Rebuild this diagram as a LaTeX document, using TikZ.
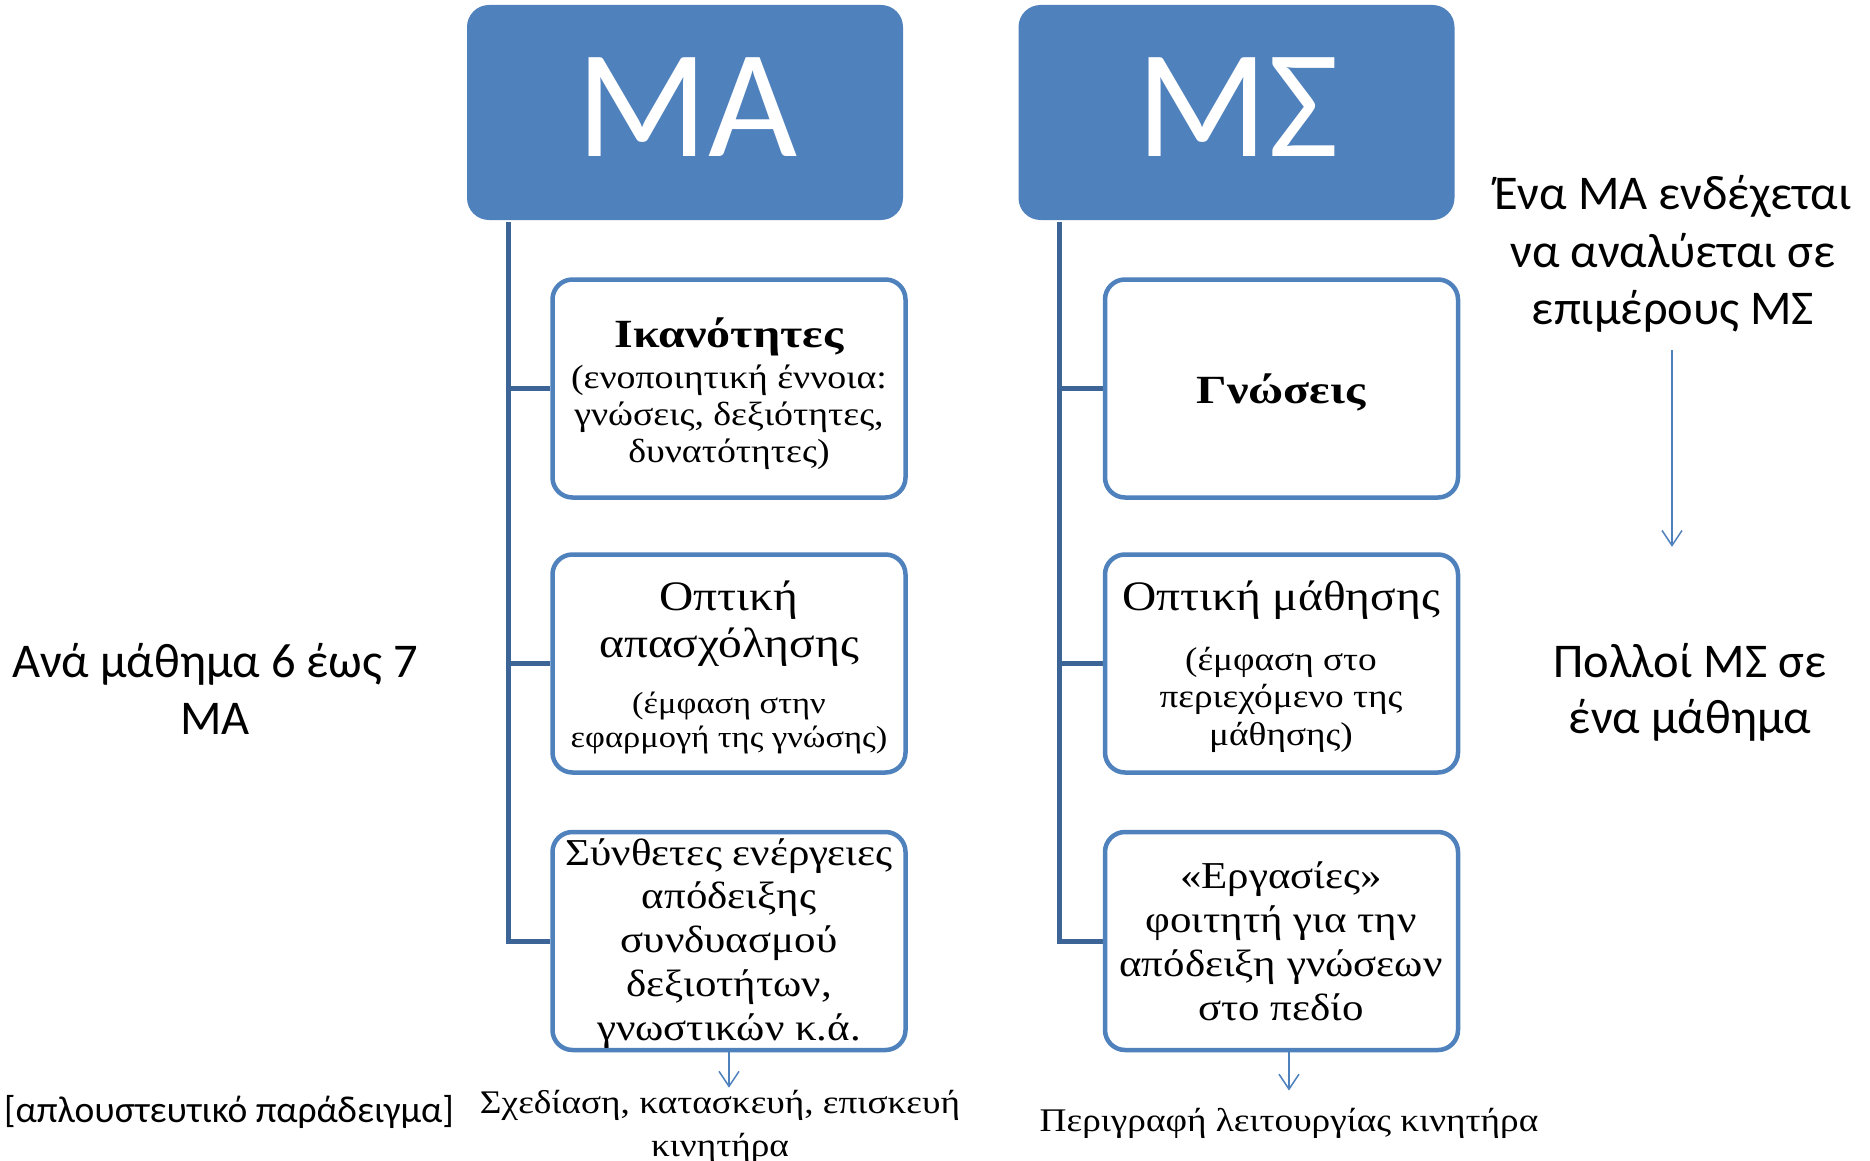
\documentclass[tikz,border=0pt]{standalone}
\usepackage{fontspec}
\setmainfont{Liberation Serif}[FakeStretch=1.13, BoldFeatures={FakeStretch=1.2}]
\newfontfamily\calib{Carlito}
\usetikzlibrary{arrows.meta}
\definecolor{accent}{HTML}{4F81BD}
\definecolor{trunkc}{HTML}{3C6496}
\newcommand\stackc[1]{\begin{tabular}[t]{@{}c@{}}#1\end{tabular}}
\newcommand\fs[2]{\fontsize{#1pt}{#2pt}\selectfont}
\pgfdeclarelayer{bg}
\pgfsetlayers{bg,main}
\begin{document}
\begin{tikzpicture}[x=1pt,y=-1pt,
  head/.style={fill=accent, rounded corners=22pt, minimum width=436pt, minimum height=215pt, inner sep=0pt},
  item/.style={draw=accent, line width=4.5pt, rounded corners=20pt, fill=white, minimum width=353pt, minimum height=218pt, inner sep=0pt},
  txt/.style={inner sep=0pt, anchor=base},
  trunk/.style={draw=trunkc, line width=5pt},
  thin arrow/.style={draw=accent, line width=1.5pt, -{Straight Barb[length=15pt,width=20pt]}},
]
\useasboundingbox (0,0) rectangle (1870,1161);
\begin{pgfonlayer}{bg}
  \fill[white] (0,0) rectangle (1870,1161);
\end{pgfonlayer}

% header blocks
\node[head] (ma) at (685,112.5) {};
\node[head] (ms) at (1236.5,112.5) {};
\node[txt, font=\calib\fs{154}{160}, text=white] (maL) at (687,157) {ΜΑ};
\node[txt, font=\calib\fs{154}{160}, text=white] (msL) at (1238,157) {ΜΣ};

% child boxes
\node[item] (ma1) at (729,388.5) {};
\node[item] (ma2) at (729,663.5) {};
\node[item] (ma3) at (729,941) {};
\node[item] (ms1) at (1281.5,388.5) {};
\node[item] (ms2) at (1281.5,663.5) {};
\node[item] (ms3) at (1281.5,941) {};

% hierarchy lines
\coordinate (maTop) at (508,222);
\coordinate (msTop) at (1059,222);
\begin{pgfonlayer}{bg}
  \draw[trunk] (maTop) |- (ma3.west);
  \draw[trunk] (maTop |- ma1.west) -- (ma1.west);
  \draw[trunk] (maTop |- ma2.west) -- (ma2.west);
  \draw[trunk] (msTop) |- (ms3.west);
  \draw[trunk] (msTop |- ms1.west) -- (ms1.west);
  \draw[trunk] (msTop |- ms2.west) -- (ms2.west);
\end{pgfonlayer}

% texts of the left column
\node[txt, font=\fs{40}{46}\bfseries] (ikt) at (729,347) {Ικανότητες};
\node[txt, font=\fs{33.5}{37}] (iks) at (729,388) {\stackc{(ενοποιητική έννοια:\\γνώσεις, δεξιότητες,\\δυνατότητες)}};
\node[txt, font=\fs{42}{47}] (opa) at (729,610) {\stackc{Οπτική\\απασχόλησης}};
\node[txt, font=\fs{30.5}{34}] (opas) at (729,713) {\stackc{(έμφαση στην\\εφαρμογή της γνώσης)}};
\node[txt, font=\fs{38}{43.75}] (syn) at (729,865) {\stackc{Σύνθετες ενέργειες\\απόδειξης\\συνδυασμού\\δεξιοτήτων,\\γνωστικών κ.ά.}};

% texts of the right column
\node[txt, font=\fs{40}{46}\bfseries] (gn) at (1281,403) {Γνώσεις};
\node[txt, font=\fs{42}{47}] (opm) at (1281,610) {Οπτική μάθησης};
\node[txt, font=\fs{33}{37.5}] (opms) at (1281,670) {\stackc{(έμφαση στο\\περιεχόμενο της\\μάθησης)}};
\node[txt, font=\fs{38}{44}] (erg) at (1281,888) {\stackc{«Εργασίες»\\φοιτητή για την\\απόδειξη γνώσεων\\στο πεδίο}};

% examples below the columns
\node[txt, font=\fs{33}{43}] (sx) at (720,1113) {\stackc{Σχεδίαση, κατασκευή, επισκευή\\κινητήρα}};
\node[txt, font=\fs{33}{40}] (per) at (1289,1131) {Περιγραφή λειτουργίας κινητήρα};

% side notes
\node[txt, font=\calib\fs{48.5}{57.5}] (desc) at (1673,210) {\stackc{Ένα ΜΑ ενδέχεται\\να αναλύεται σε\\επιμέρους ΜΣ}};
\node[txt, font=\calib\fs{48.5}{57}] (perma) at (215,677) {\stackc{Ανά μάθημα 6 έως 7\\ΜΑ}};
\node[txt, font=\calib\fs{48.5}{56}] (many) at (1690,677) {\stackc{Πολλοί ΜΣ σε\\ένα μάθημα}};
\node[txt, font=\calib\fs{37.5}{40}] (simp) at (229,1122) {[απλουστευτικό παράδειγμα]};

% arrows
\draw[thin arrow] ([yshift=3pt]ma3.south) -- ([yshift=-5pt]ma3.south |- sx.north);
\draw[thin arrow] ([yshift=3pt]ms3.south -| per.north) -- ([yshift=17pt]per.north);
\draw[thin arrow, shorten <=7.75pt, shorten >=90.8pt] (desc.south -| 1672,0) -- (many.north -| 1672,0);
\end{tikzpicture}
\end{document}
